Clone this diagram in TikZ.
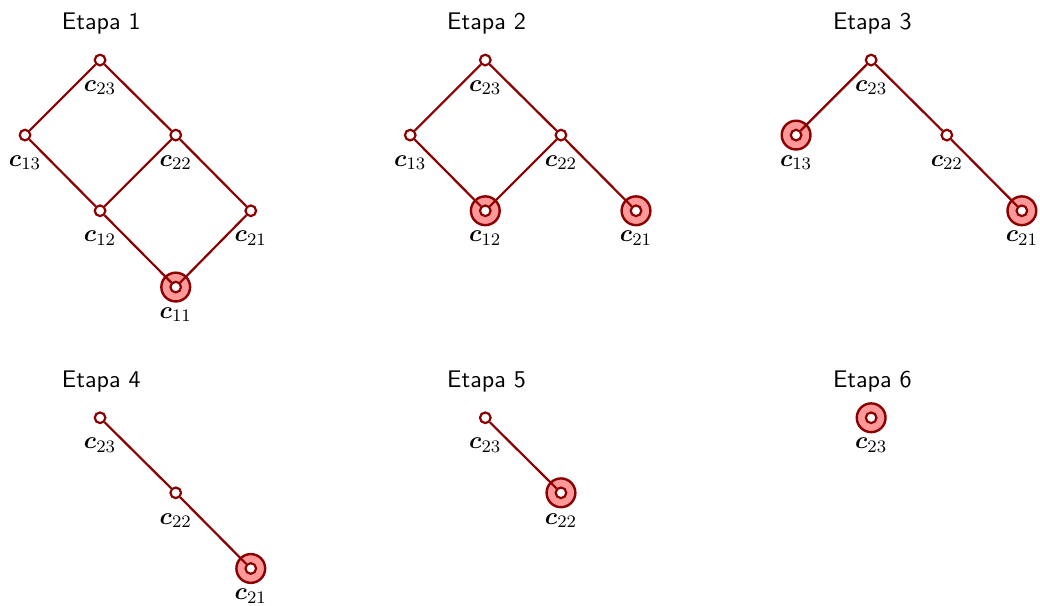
\documentclass[tikz,border=0pt,11pt]{standalone}
\usepackage{amsmath, amssymb, amsthm}
\usepackage{tikz}

\definecolor{lattice}{RGB}{139,0,0}
\definecolor{chosen}{RGB}{255,153,153}

\begin{document}
\begin{tikzpicture}[
        pt/.style={circle, draw=lattice, fill=white, line width=1pt, inner sep=0pt, minimum size=1.7mm},
        ring/.style={circle, draw=lattice, fill=chosen, line width=1.1pt, inner sep=0pt, minimum size=4.6mm},
        edge/.style={draw=lattice, line width=1pt},
        title/.style={font=\sffamily},
        every label/.style={label distance=0.9mm}
    ]
    \useasboundingbox (0, 0) rectangle (16.63, -9.69);

    % Etapa 1
    \node[title] (t1) at (1.62, -0.38) {Etapa 1};
    \node[ring] (r1) at (2.81, -4.59) {};
    \node[pt, label=below:{$\boldsymbol{c}_{23}$}] (a23) at (1.6, -0.96) {};
    \node[pt, label=below:{$\boldsymbol{c}_{13}$}] (a13) at (0.4, -2.16) {};
    \node[pt, label=below:{$\boldsymbol{c}_{22}$}] (a22) at (2.81, -2.16) {};
    \node[pt, label=below:{$\boldsymbol{c}_{12}$}] (a12) at (1.6, -3.37) {};
    \node[pt, label=below:{$\boldsymbol{c}_{21}$}] (a21) at (4.01, -3.37) {};
    \node[pt, label=below:{$\boldsymbol{c}_{11}$}] (a11) at (2.81, -4.59) {};
    \draw[edge] (a23) -- (a13);
    \draw[edge] (a23) -- (a22);
    \draw[edge] (a13) -- (a12);
    \draw[edge] (a22) -- (a12);
    \draw[edge] (a22) -- (a21);
    \draw[edge] (a12) -- (a11);
    \draw[edge] (a21) -- (a11);

    % Etapa 2
    \begin{scope}[xshift=6.16cm]
        \node[title] (t2) at (1.62, -0.38) {Etapa 2};
        \node[ring] (r2a) at (1.6, -3.37) {};
        \node[ring] (r2b) at (4.01, -3.37) {};
        \node[pt, label=below:{$\boldsymbol{c}_{23}$}] (b23) at (1.6, -0.96) {};
        \node[pt, label=below:{$\boldsymbol{c}_{13}$}] (b13) at (0.4, -2.16) {};
        \node[pt, label=below:{$\boldsymbol{c}_{22}$}] (b22) at (2.81, -2.16) {};
        \node[pt, label=below:{$\boldsymbol{c}_{12}$}] (b12) at (1.6, -3.37) {};
        \node[pt, label=below:{$\boldsymbol{c}_{21}$}] (b21) at (4.01, -3.37) {};
        \draw[edge] (b23) -- (b13);
        \draw[edge] (b23) -- (b22);
        \draw[edge] (b13) -- (b12);
        \draw[edge] (b22) -- (b12);
        \draw[edge] (b22) -- (b21);
    \end{scope}

    % Etapa 3
    \begin{scope}[xshift=12.33cm]
        \node[title] (t3) at (1.62, -0.38) {Etapa 3};
        \node[ring] (r3a) at (0.4, -2.16) {};
        \node[ring] (r3b) at (4.01, -3.37) {};
        \node[pt, label=below:{$\boldsymbol{c}_{23}$}] (c23) at (1.6, -0.96) {};
        \node[pt, label=below:{$\boldsymbol{c}_{13}$}] (c13) at (0.4, -2.16) {};
        \node[pt, label=below:{$\boldsymbol{c}_{22}$}] (c22) at (2.81, -2.16) {};
        \node[pt, label=below:{$\boldsymbol{c}_{21}$}] (c21) at (4.01, -3.37) {};
        \draw[edge] (c23) -- (c13);
        \draw[edge] (c23) -- (c22);
        \draw[edge] (c22) -- (c21);
    \end{scope}

    % Etapa 4
    \begin{scope}[yshift=-5.72cm]
        \node[title] (t4) at (1.62, -0.38) {Etapa 4};
        \node[ring] (r4) at (4.01, -3.37) {};
        \node[pt, label=below:{$\boldsymbol{c}_{23}$}] (d23) at (1.6, -0.96) {};
        \node[pt, label=below:{$\boldsymbol{c}_{22}$}] (d22) at (2.81, -2.16) {};
        \node[pt, label=below:{$\boldsymbol{c}_{21}$}] (d21) at (4.01, -3.37) {};
        \draw[edge] (d23) -- (d22);
        \draw[edge] (d22) -- (d21);
    \end{scope}

    % Etapa 5
    \begin{scope}[xshift=6.16cm, yshift=-5.72cm]
        \node[title] (t5) at (1.62, -0.38) {Etapa 5};
        \node[ring] (r5) at (2.81, -2.16) {};
        \node[pt, label=below:{$\boldsymbol{c}_{23}$}] (e23) at (1.6, -0.96) {};
        \node[pt, label=below:{$\boldsymbol{c}_{22}$}] (e22) at (2.81, -2.16) {};
        \draw[edge] (e23) -- (e22);
    \end{scope}

    % Etapa 6
    \begin{scope}[xshift=12.33cm, yshift=-5.72cm]
        \node[title] (t6) at (1.62, -0.38) {Etapa 6};
        \node[ring] (r6) at (1.6, -0.96) {};
        \node[pt, label=below:{$\boldsymbol{c}_{23}$}] (f23) at (1.6, -0.96) {};
    \end{scope}
\end{tikzpicture}
\end{document}
